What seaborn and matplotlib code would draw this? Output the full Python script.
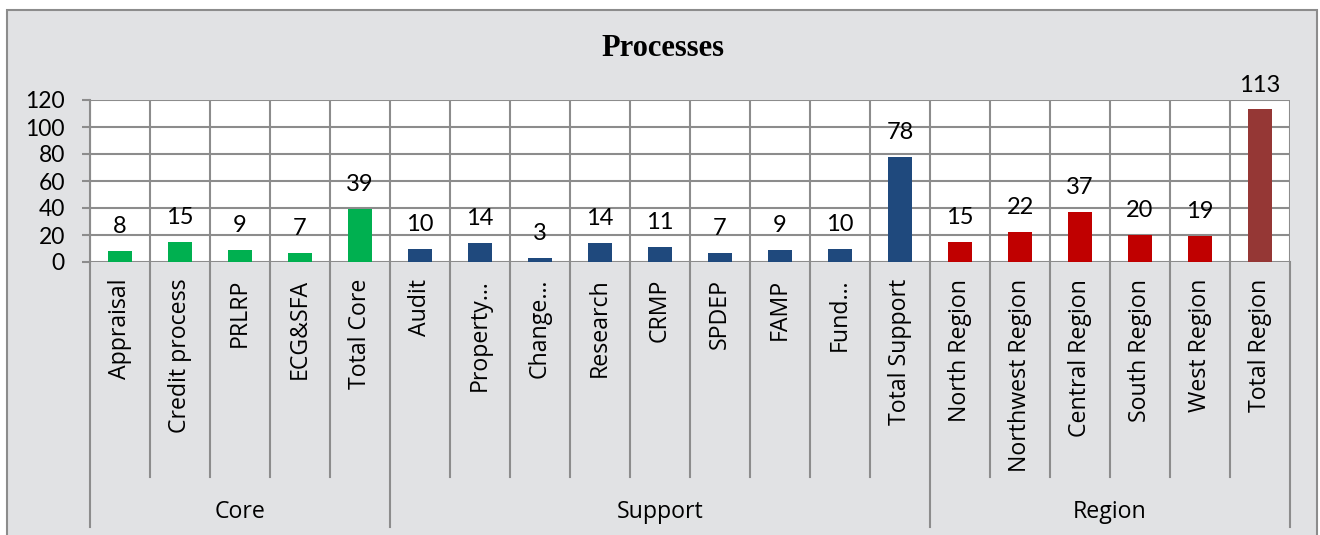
import matplotlib
matplotlib.use("Agg")
import matplotlib.pyplot as plt
import matplotlib.transforms as mtransforms
from matplotlib.patches import Rectangle
import seaborn as sns
import pandas as pd

# ---------------- data ----------------
categories = ["Appraisal", "Credit process", "PRLRP", "ECG&SFA", "Total Core",
              "Audit", "Property\u2026", "Change\u2026", "Research", "CRMP", "SPDEP",
              "FAMP", "Fund\u2026", "Total Support",
              "North Region", "Northwest Region", "Central Region", "South Region",
              "West Region", "Total Region"]
values = [8, 15, 9, 7, 39, 10, 14, 3, 14, 11, 7, 9, 10, 78, 15, 22, 37, 20, 19, 113]
groups = ["Core"] * 5 + ["Support"] * 9 + ["Region"] * 6
group_names = ["Core", "Support", "Region"]
color_keys = ["Core"] * 5 + ["Support"] * 9 + ["Region"] * 5 + ["Total Region"]
y_ticks = [0, 20, 40, 60, 80, 100, 120]

palette = {"Core": "#00B050", "Support": "#1F497D",
           "Region": "#C00000", "Total Region": "#953735"}

df = pd.DataFrame({"category": categories, "value": values,
                   "group": groups, "key": color_keys})

# ---------------- figure ----------------
W, H = 1320, 535
fig = plt.figure(figsize=(W / 100, H / 100), dpi=100, facecolor="white")

GRID = "#8c8c8c"
MARBLE = "#e1e2e4"

# chart frame (marble-like background)
fig.patches.append(Rectangle((7 / W, -0.02), (1317 - 7) / W, (535 - 10) / H + 0.02,
                             transform=fig.transFigure, facecolor=MARBLE,
                             edgecolor=GRID, linewidth=1.5, zorder=-5))

px_left, px_right, px_top, px_zero = 90, 1290, 100, 262
ax = fig.add_axes([px_left / W, (H - px_zero) / H,
                   (px_right - px_left) / W, (px_zero - px_top) / H])
ax.set_zorder(2)
ax.set_facecolor("white")

sns.barplot(data=df, x="category", y="value", hue="key", palette=palette,
            order=categories, dodge=False, width=0.4, legend=False,
            saturation=1, ax=ax, zorder=3)

ax.set_ylim(0, 120)
ax.set_xlim(-0.5, len(categories) - 0.5)
ax.set_yticks(y_ticks)
ax.set_xlabel("")
ax.set_ylabel("")

num_font = ["Lato", "DejaVu Sans"]
lab_font = ["Open Sans", "DejaVu Sans"]

# horizontal gridlines
ax.yaxis.grid(True, color=GRID, linewidth=1.5, zorder=1)
ax.set_axisbelow(True)
# vertical boundaries inside the plot area
for i in range(len(categories) + 1):
    ax.axvline(i - 0.5, color=GRID, linewidth=1.5, zorder=1)

for s in ax.spines.values():
    s.set_visible(False)

ax.tick_params(axis="y", length=6, width=1.5, color=GRID, pad=12,
               labelsize=16.5)
for t in ax.get_yticklabels():
    t.set_fontfamily(num_font)

ax.set_xticks(range(len(categories)))
ax.set_xticklabels(categories, rotation=90, va="top", ha="center",
                   fontsize=16.7, fontfamily=lab_font)
ax.tick_params(axis="x", length=0, pad=12)

# bar value labels
for cont in ax.containers:
    labels = [f"{int(round(b.get_height()))}" if b.get_height() == b.get_height() else ""
              for b in cont]
    ax.bar_label(cont, labels=labels, padding=10, fontsize=17,
                 fontfamily=num_font, color="black")

# multi-level category separators below axis
trans = mtransforms.blended_transform_factory(ax.transData, ax.transAxes)
h = px_zero - px_top
inner_bottom = -(477 - px_zero) / h
outer_bottom = -(527 - px_zero) / h
boundaries = [0]
for g in group_names:
    boundaries.append(boundaries[-1] + groups.count(g))
for i in range(len(categories) + 1):
    yb = outer_bottom if i in boundaries else inner_bottom
    ax.plot([i - 0.5, i - 0.5], [0, yb], transform=trans, color=GRID,
            linewidth=1.5, clip_on=False, zorder=2)
# y-axis line down through the category area
ax.plot([-0.5, -0.5], [1, 0], transform=trans, color=GRID, linewidth=1.5,
        clip_on=False, zorder=2)

# group labels
for gi, g in enumerate(group_names):
    start, end = boundaries[gi], boundaries[gi + 1]
    ax.text((start + end - 1) / 2, -(512 - px_zero) / h, g, transform=trans,
            ha="center", va="center", fontsize=16.7, fontfamily=lab_font)

# title
fig.text(663 / W, 1 - 48 / H, "Processes", ha="center", va="center",
         fontsize=22, fontweight="bold", fontfamily="Liberation Serif")

fig.savefig("out.png", dpi=100, facecolor="white")
